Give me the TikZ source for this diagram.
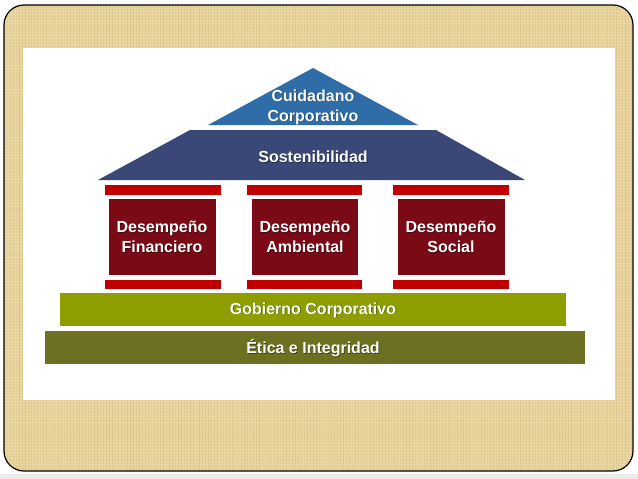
\documentclass[tikz,border=0pt]{standalone}
\usepackage{fontspec}
\setmainfont{Liberation Sans}
\definecolor{burlap}{HTML}{E8D39C}
\definecolor{burlapdark}{HTML}{CDB57A}
\definecolor{burlaplight}{HTML}{F4E6BE}
\definecolor{roofblue}{HTML}{2F6DA8}
\definecolor{navy}{HTML}{3A4878}
\definecolor{barred}{HTML}{C00000}
\definecolor{pillar}{HTML}{7A0A16}
\definecolor{govgreen}{HTML}{8E9E00}
\definecolor{ethics}{HTML}{6D7020}
\tikzset{
  lbl/.style={text=white, font=\bfseries\fontsize{16}{20}\selectfont, align=center, inner sep=0pt},
  shd/.style={text=black, opacity=0.45, font=\bfseries\fontsize{16}{20}\selectfont, align=center, inner sep=0pt},
}
\newcommand{\mylabel}[3]{%
  \node[shd] at ([xshift=0.7pt,yshift=-0.7pt]#2) {#3};
  \node[lbl] (#1) at (#2) {#3};}
\begin{document}
\begin{tikzpicture}[x=1pt,y=-1pt]
\useasboundingbox (0,0) rectangle (638,479);
\fill[white] (0,0) rectangle (638,479);
\fill[black!8] (0,474) rectangle (638,479);
% frame with texture
\begin{scope}
  \clip[rounded corners=20pt] (4,5) rectangle (633,471);
  \fill[burlap] (4,5) rectangle (633,471);
  \pgfmathsetseed{7}
  \foreach \i in {4,7,...,633}{
    \pgfmathsetmacro{\op}{0.15+0.35*rnd}
    \draw[burlapdark, opacity=\op, line width=0.8pt] (\i,5) -- (\i,471);
  }
  \foreach \j in {5,8,...,471}{
    \pgfmathsetmacro{\op}{0.1+0.3*rnd}
    \draw[burlaplight, opacity=\op, line width=0.9pt] (4,\j) -- (633,\j);
  }
\end{scope}
\draw[black, line width=1.2pt, rounded corners=20pt] (4,5) rectangle (633,471);
% white panel
\fill[white] (23,48) rectangle (615,400);
% roof
\fill[roofblue] (313,68) -- (418,125) -- (208,125) -- cycle;
\fill[navy] (190,130) -- (436,130) -- (525,180) -- (98,180) -- cycle;
% pillars
\foreach \a/\b/\c/\d in {105/221/109/216, 247/362/252/358, 393/509/398/505}{
  \fill[barred] (\a,185) rectangle (\b,195);
  \fill[pillar] (\c,199) rectangle (\d,275);
  \fill[barred] (\a,280) rectangle (\b,289);
}
% base
\fill[govgreen] (60,293) rectangle (566,326);
\fill[ethics] (45,331) rectangle (585,364);
% labels
\mylabel{cuid}{313,107}{Cuidadano\\Corporativo}
\mylabel{sost}{313,157}{Sostenibilidad}
\mylabel{fin}{162,237}{Desempeño\\Financiero}
\mylabel{amb}{305,237}{Desempeño\\Ambiental}
\mylabel{soc}{451,237}{Desempeño\\Social}
\mylabel{gob}{313,310}{Gobierno Corporativo}
\mylabel{eti}{313,348}{Ética e Integridad}
\end{tikzpicture}
\end{document}
